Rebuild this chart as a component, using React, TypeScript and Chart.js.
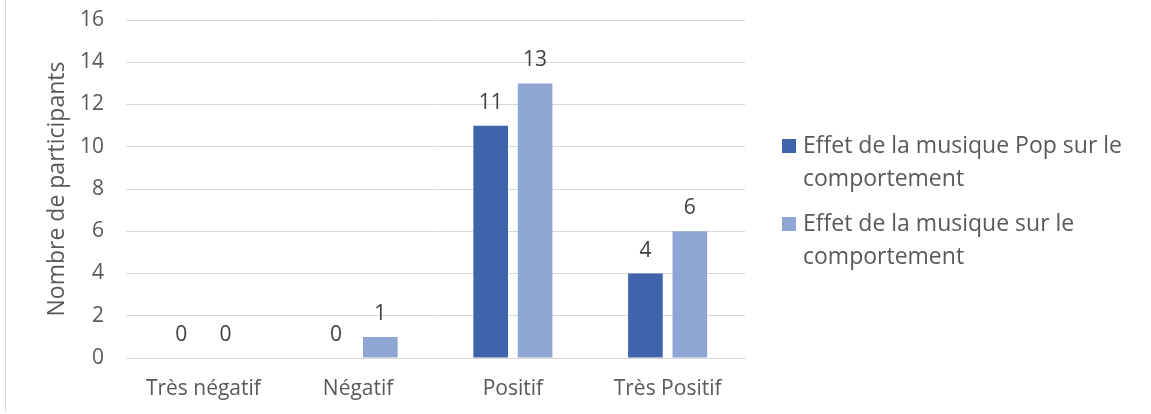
import React, { useEffect, useRef } from "react";
import { Chart, registerables } from "chart.js";

Chart.register(...registerables);

const categories = ["Très négatif", "Négatif", "Positif", "Très Positif"];
const seriesNames = [
  "Effet de la musique Pop sur le comportement",
  "Effet de la musique sur le comportement",
];
const popValues = [0, 0, 11, 4];
const musicValues = [0, 1, 13, 6];
const yTitle = "Nombre de participants";
const yMin = 0;
const yMax = 16;
const yStep = 2;

const COLORS = ["#3F64AB", "#8FA5D4"];
const TEXT = "#595959";
const GRID = "#D9D9D9";
const FONT = '"Open Sans", "Noto Sans", sans-serif';
const AXIS_SIZE = 21;
const TITLE_SIZE = 23;
const LEGEND_SIZE = 23;

function wrap(ctx: CanvasRenderingContext2D, text: string, maxW: number): string[] {
  const words = text.split(" ");
  const lines: string[] = [];
  let cur = "";
  for (const w of words) {
    const t = cur ? cur + " " + w : w;
    if (ctx.measureText(t).width > maxW && cur) {
      lines.push(cur);
      cur = w;
    } else cur = t;
  }
  if (cur) lines.push(cur);
  return lines;
}

const decorPlugin = {
  id: "decor",
  beforeDraw(chart: any) {
    const ctx = chart.ctx;
    ctx.save();
    ctx.strokeStyle = GRID;
    ctx.lineWidth = 1;
    ctx.beginPath();
    ctx.moveTo(5.5, 0);
    ctx.lineTo(5.5, 412);
    ctx.stroke();
    ctx.restore();
  },
  afterDatasetsDraw(chart: any) {
    const ctx = chart.ctx;
    ctx.save();
    ctx.font = `${AXIS_SIZE}px ${FONT}`;
    ctx.fillStyle = "#404040";
    ctx.textAlign = "center";
    ctx.textBaseline = "alphabetic";
    chart.data.datasets.forEach((ds: any, di: number) => {
      const meta = chart.getDatasetMeta(di);
      meta.data.forEach((el: any, i: number) => {
        ctx.fillText(String(ds.data[i]), el.x, el.y - 17);
      });
    });
    ctx.restore();
  },
  afterDraw(chart: any) {
    const ctx = chart.ctx;
    ctx.save();
    ctx.font = `${LEGEND_SIZE}px ${FONT}`;
    ctx.textBaseline = "middle";
    ctx.textAlign = "left";
    const lineH = 33;
    let y = 146;
    chart.data.datasets.forEach((ds: any) => {
      ctx.fillStyle = ds.backgroundColor;
      ctx.fillRect(782, y - 7, 14, 14);
      ctx.fillStyle = TEXT;
      const lines = wrap(ctx, ds.label, 345);
      lines.forEach((ln, k) => ctx.fillText(ln, 803, y + k * lineH));
      y += lines.length * lineH + 12;
    });
    ctx.restore();
  },
};

export default function App() {
  const ref = useRef<HTMLCanvasElement>(null);
  useEffect(() => {
    if (!ref.current) return;
    const chart = new Chart(ref.current, {
      type: "bar",
      data: {
        labels: categories,
        datasets: [
          { label: seriesNames[0], data: popValues, backgroundColor: COLORS[0] },
          { label: seriesNames[1], data: musicValues, backgroundColor: COLORS[1] },
        ],
      },
      plugins: [decorPlugin],
      options: {
        animation: false,
        responsive: false,
        devicePixelRatio: 1,
        layout: { autoPadding: false, padding: { top: 20, right: 406, bottom: 0, left: 0 } },
        plugins: { legend: { display: false }, tooltip: { enabled: false } },
        datasets: { bar: { categoryPercentage: 0.574, barPercentage: 0.78 } },
        scales: {
          x: {
            afterFit: (s: any) => { s.height = 56; s.paddingLeft = 0; s.paddingRight = 0; },
            grid: { display: false, drawTicks: false },
            border: { display: true, color: GRID },
            ticks: { color: TEXT, font: { family: FONT, size: AXIS_SIZE }, padding: 18 },
          },
          y: {
            min: yMin,
            max: yMax,
            afterFit: (s: any) => { s.width = 126; s.paddingTop = 0; s.paddingBottom = 0; },
            grid: { color: GRID, drawTicks: false },
            border: { display: false },
            ticks: { stepSize: yStep, color: TEXT, font: { family: FONT, size: AXIS_SIZE }, padding: 22 },
            title: {
              display: true,
              text: yTitle,
              color: TEXT,
              font: { family: FONT, size: TITLE_SIZE, weight: "normal" },
              padding: { top: 44, bottom: 0 },
            },
          },
        },
      } as any,
    });
    return () => chart.destroy();
  }, []);
  return (
    <div style={{ position: "absolute", left: 0, top: 0, width: 1151, height: 414, background: "#fff" }}>
      <canvas ref={ref} width={1151} height={414} style={{ display: "block" }} />
    </div>
  );
}
